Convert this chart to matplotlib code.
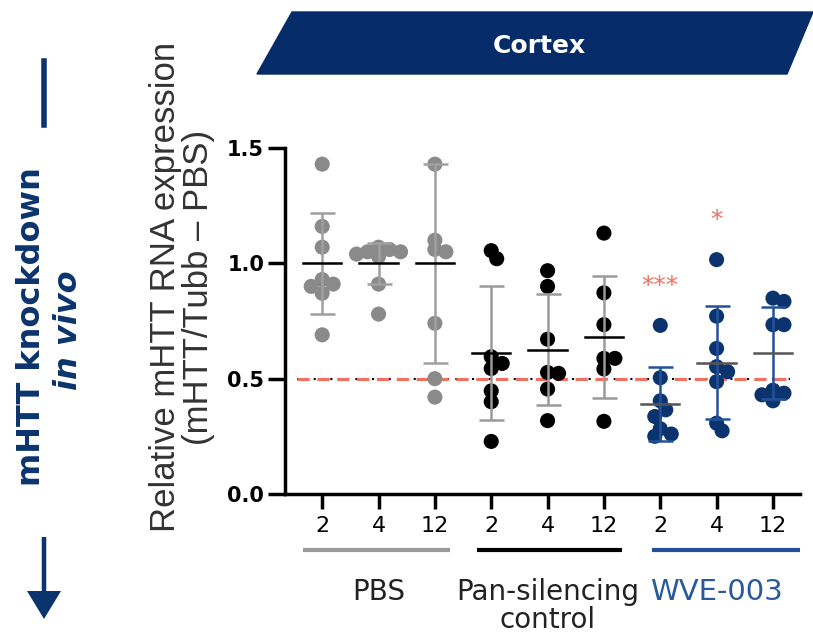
import matplotlib
matplotlib.use("Agg")
import matplotlib.pyplot as plt
from matplotlib.patches import Polygon, FancyArrow
import numpy as np

# ---- data ----
groups = ["PBS", "Pan-silencing\ncontrol", "WVE-003"]
weeks = ["2", "4", "12"]
pbs_2 = [1.43, 1.16, 1.07, 0.93, 0.91, 0.90, 0.87, 0.69]
pbs_4 = [1.07, 1.06, 1.05, 1.05, 1.04, 1.03, 0.91, 0.78]
pbs_12 = [1.43, 1.10, 1.05, 1.06, 0.74, 0.50, 0.42]
pan_2 = [1.02, 1.055, 0.595, 0.544, 0.566, 0.447, 0.40, 0.228]
pan_4 = [0.968, 0.90, 0.671, 0.523, 0.527, 0.455, 0.318]
pan_12 = [1.131, 0.872, 0.734, 0.588, 0.588, 0.542, 0.315]
wve_2 = [0.731, 0.504, 0.404, 0.365, 0.336, 0.283, 0.25, 0.26]
wve_4 = [1.016, 0.771, 0.631, 0.552, 0.53, 0.487, 0.307, 0.274]
wve_12 = [0.849, 0.835, 0.734, 0.734, 0.404, 0.43, 0.437, 0.45]
means = [1.0, 1.0, 1.0, 0.61, 0.625, 0.68, 0.39, 0.57, 0.61]
sds = [0.22, 0.09, 0.43, 0.29, 0.24, 0.265, 0.16, 0.245, 0.20]
sig_labels = ["", "", "", "", "", "", "***", "*", ""]
sig_y = [None, None, None, None, None, None, 0.90, 1.19, None]
threshold = 0.5

series = [pbs_2, pbs_4, pbs_12, pan_2, pan_4, pan_12, wve_2, wve_4, wve_12]

# ---- styles ----
GRAY = "#8a8a8a"
BLACK = "#000000"
NAVY = "#0b346e"
BANNER = "#062b69"
WVE_TXT = "#2a5a9c"
RED = "#f2705f"
pt_colors = [GRAY] * 3 + [BLACK] * 3 + [NAVY] * 3
err_colors = ["#a0a0a0"] * 3 + ["#9a9a9a"] * 3 + ["#24509a"] * 3
mean_colors = [BLACK] * 3 + [BLACK] * 3 + ["#555555"] * 3

fig = plt.figure(figsize=(8.13, 6.34), dpi=100)
W, H = 813, 634
ax = fig.add_axes([285 / W, 1 - 494 / H, (800 - 285) / W, (494 - 148) / H])
ax.set_ylim(0, 1.5)
ax.set_xlim(-0.66, 8.48)

xs = np.arange(len(series))
x_px = (800 - 285) / (8.48 + 0.66)
y_px = (494 - 148) / 1.5


def swarm(vals, diam_px=9.0, step=5.5):
    order = np.argsort(vals)[::-1]
    placed = []
    offs = np.zeros(len(vals))
    for i in order:
        v = vals[i]
        cands = [0.0]
        for k in range(1, 8):
            cands += [k * step, -k * step]
        for c in cands:
            if all(np.hypot(c - px, (v - py) * y_px) >= diam_px
                   for (px, py) in placed):
                offs[i] = c
                placed.append((c, v))
                break
    return offs / x_px


for i, vals in enumerate(series):
    vals = np.asarray(vals)
    offs = swarm(vals)
    ax.scatter(xs[i] + offs, vals, s=118, color=pt_colors[i], zorder=3,
               edgecolors="none")
    ax.errorbar(xs[i], means[i], yerr=sds[i], fmt="none", ecolor=err_colors[i],
                elinewidth=1.8, capsize=9, capthick=1.8, zorder=4)
    ax.plot([xs[i] - 0.34, xs[i] + 0.34], [means[i], means[i]],
            color=mean_colors[i], lw=1.8, zorder=5)
    if sig_labels[i]:
        ax.text(xs[i], sig_y[i], sig_labels[i], color=RED, ha="center",
                va="center", fontsize=18)

ax.plot([-0.45, 8.3], [threshold, threshold], color="black", lw=1.5,
        ls=(0, (1, 3)), zorder=2)
ax.plot([-0.45, 8.3], [threshold, threshold], color=RED, lw=2.2,
        ls=(0, (4, 2.5)), zorder=2)

for s in ["top", "right"]:
    ax.spines[s].set_visible(False)
for s in ["left", "bottom"]:
    ax.spines[s].set_linewidth(2.5)
ax.set_yticks([0, 0.5, 1.0, 1.5])
ax.set_yticklabels(["0.0", "0.5", "1.0", "1.5"], fontsize=15, fontweight="bold")
ax.set_xticks(xs)
ax.set_xticklabels(weeks * 3, fontsize=16)
ax.tick_params(axis="y", length=12, width=2.5, pad=3)
ax.tick_params(axis="x", length=11, width=2.5, pad=5)

# y-axis title placed to match reference
fig.text(182 / W, 1 - 287 / H,
         "Relative mHTT RNA expression\n(mHTT/Tubb \u2013 PBS)",
         rotation=90, fontsize=25, family="Liberation Sans", color="#333333",
         ha="center", va="center", linespacing=1.0)

# group underlines and labels
line_specs = [(303, 450, "#999999"), (477, 622, BLACK), (652, 800, "#24509a")]
for (x0, x1, c) in line_specs:
    fig.lines.append(plt.Line2D([x0 / W, x1 / W], [1 - 550 / H, 1 - 550 / H],
                                transform=fig.transFigure, color=c, lw=3,
                                solid_capstyle="butt"))
for k, lab in enumerate(groups):
    cx = np.mean(xs[3 * k:3 * k + 3])
    tc = WVE_TXT if k == 2 else "#222222"
    xf = ax.transData.transform((cx, 0))[0] / W
    fig.text(xf, 1 - 578 / H, lab, ha="center", va="top",
             fontsize=20 if k < 2 else 21, color=tc, linespacing=0.98)

# banner
poly = Polygon([[292 / W, 1 - 12 / H], [813 / W, 1 - 12 / H],
                [787 / W, 1 - 74 / H], [257 / W, 1 - 74 / H]],
               closed=True, transform=fig.transFigure, color=BANNER)
fig.patches.append(poly)
fig.text(539 / W, 1 - 46 / H, "Cortex", color="white", fontsize=18,
         fontweight="bold", ha="center", va="center")

# left side annotation
fig.lines.append(plt.Line2D([44 / W, 44 / W], [1 - 61 / H, 1 - 125 / H],
                            transform=fig.transFigure, color=NAVY, lw=4))
fig.patches.append(FancyArrow(44 / W, 1 - 537 / H, 0, -(82 / H),
                              width=4.5 / W, head_width=34 / W,
                              head_length=28 / H, length_includes_head=True,
                              transform=fig.transFigure, color=NAVY, lw=0))
fig.text(32 / W, 1 - 327 / H, "mHTT knockdown", rotation=90, color=NAVY,
         fontsize=23, fontweight="bold", ha="center", va="center")
fig.text(68 / W, 1 - 330 / H, "in vivo", rotation=90, color=NAVY,
         fontsize=23, fontweight="bold", fontstyle="italic", ha="center",
         va="center")

fig.savefig("out.png", dpi=100)
